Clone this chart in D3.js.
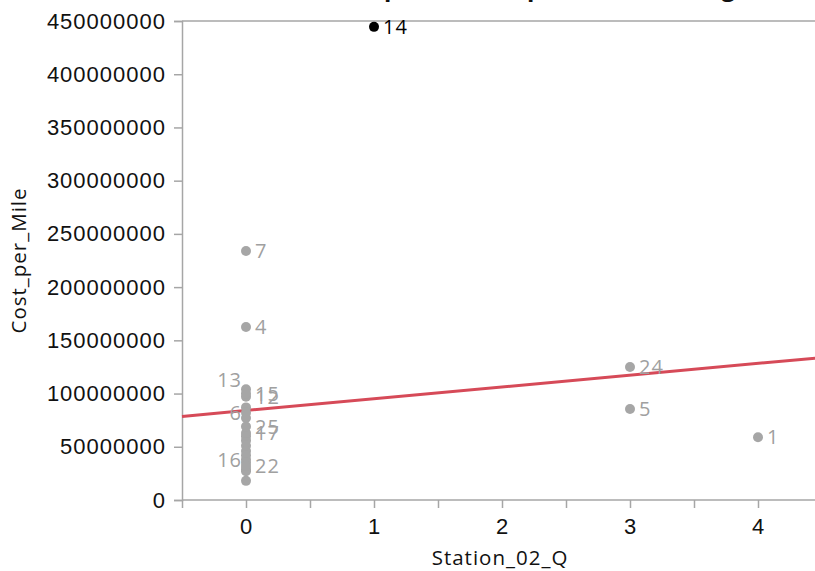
<!DOCTYPE html>
<html>
<head>
<meta charset="utf-8">
<script src="https://cdn.jsdelivr.net/npm/d3@7/dist/d3.min.js"></script>
<style>
  html, body { margin: 0; padding: 0; background: #fff; overflow: hidden; }
  svg { display: block; font-family: "Open Sans", "Noto Sans", sans-serif; }
  .axis path, .axis line { stroke: #a6a6a6; stroke-width: 1.5; }
  .axis text { fill: #111; font-size: 22px; letter-spacing: 1px; }
  .axis-title { font-size: 20.5px; letter-spacing: 1px; fill: #111; }
</style>
</head>
<body>
<svg id="chart" width="815" height="571"></svg>
<script>
// Project id, Station_02_Q and Cost_per_Mile for each observation
const ids = [1, 2, 3, 4, 5, 6, 7, 8, 9, 10, 11, 12, 13, 14, 15, 16, 17, 18, 19, 20, 21, 22, 23, 24, 25];
const station02Q = [4, 0, 0, 0, 3, 0, 0, 0, 0, 0, 0, 0, 0, 1, 0, 0, 0, 0, 0, 0, 0, 0, 0, 3, 0];
const costPerMile = [
  59e6, 87e6, 77e6, 162.6e6, 85.5e6, 82e6, 234e6, 60e6, 56e6, 51e6,
  46e6, 97e6, 104e6, 444.5e6, 100e6, 38e6, 63e6, 42e6, 29e6, 35e6,
  27e6, 32e6, 18e6, 125e6, 69e6
];
// Observations that carry a visible id label, and which side it sits on
const labelledIds = [1, 4, 5, 6, 7, 12, 13, 14, 15, 16, 17, 22, 24, 25];
const labelSide = { 6: "left", 13: "upperLeft", 16: "left" };
const highlightedId = 14;

const xTicks = [-0.5, 0, 0.5, 1, 1.5, 2, 2.5, 3, 3.5, 4, 4.5];
const yTicks = [0, 50e6, 100e6, 150e6, 200e6, 250e6, 300e6, 350e6, 400e6, 450e6];

const data = ids.map((id, i) => ({ id, x: station02Q[i], y: costPerMile[i] }));

const svg = d3.select("#chart");
const plotLeft = 182, plotTop = 21, plotBottom = 500, plotRight = 822;

const x = d3.scaleLinear().domain([-0.5, 4.5]).range([plotLeft, plotRight]);
const y = d3.scaleLinear().domain([0, 450e6]).range([plotBottom, plotTop]);

// Title (runs off the top edge of the page)
svg.append("text")
  .attr("x", 560).attr("y", -4)
  .attr("text-anchor", "middle")
  .attr("font-size", 24).attr("font-weight", "bold").attr("fill", "#111")
  .text("Scatterplot of Cost per Mile with Regression");

// Top frame line
svg.append("line")
  .attr("x1", plotLeft).attr("x2", 815).attr("y1", plotTop).attr("y2", plotTop)
  .attr("stroke", "#a6a6a6").attr("stroke-width", 1.5);

// Axes
const xAxis = d3.axisBottom(x)
  .tickValues(xTicks)
  .tickSize(8).tickPadding(10)
  .tickFormat(d => Number.isInteger(d) ? d3.format("d")(d) : "");
svg.append("g").attr("class", "axis")
  .attr("transform", `translate(0,${plotBottom})`)
  .call(xAxis)
  .call(g => g.select(".domain").attr("d", `M${plotLeft},0H815`));

const yAxis = d3.axisLeft(y)
  .tickValues(yTicks)
  .tickSize(8).tickPadding(8)
  .tickFormat(d3.format("d"));
svg.append("g").attr("class", "axis")
  .attr("transform", `translate(${plotLeft},0)`)
  .call(yAxis);

// Axis titles
svg.append("text").attr("class", "axis-title")
  .attr("x", (plotLeft + plotRight) / 2 - 2).attr("y", 565)
  .attr("text-anchor", "middle")
  .text("Station_02_Q");
svg.append("text").attr("class", "axis-title")
  .attr("transform", `translate(26,${(plotTop + plotBottom) / 2}) rotate(-90)`)
  .attr("text-anchor", "middle")
  .text("Cost_per_Mile");

// Least-squares regression line
const mx = d3.mean(data, d => d.x), my = d3.mean(data, d => d.y);
const sxy = d3.sum(data, d => (d.x - mx) * (d.y - my));
const sxx = d3.sum(data, d => (d.x - mx) ** 2);
const slope = sxy / sxx, intercept = my - slope * mx;
const [x0, x1] = x.domain();
svg.append("line")
  .attr("x1", x(x0)).attr("y1", y(intercept + slope * x0))
  .attr("x2", x(x1)).attr("y2", y(intercept + slope * x1))
  .attr("stroke", "#d64a58").attr("stroke-width", 3);

// Points
const grey = "#a6a6a6";
svg.append("g").selectAll("circle")
  .data(data.filter(d => d.id !== highlightedId).concat(data.filter(d => d.id === highlightedId)))
  .join("circle")
  .attr("cx", d => x(d.x)).attr("cy", d => y(d.y)).attr("r", 5)
  .attr("fill", d => d.id === highlightedId ? "#000" : grey);

// Id labels
svg.append("g").selectAll("text")
  .data(data.filter(d => labelledIds.includes(d.id)))
  .join("text")
  .attr("x", d => labelSide[d.id] ? x(d.x) - 4 : x(d.x) + 9)
  .attr("y", d => y(d.y) + (labelSide[d.id] === "upperLeft" ? -9 : 0))
  .attr("dy", "0.35em")
  .attr("text-anchor", d => labelSide[d.id] ? "end" : "start")
  .attr("font-size", 20)
  .style("letter-spacing", "1px")
  .attr("fill", d => d.id === highlightedId ? "#000" : "#a0a0a0")
  .text(d => d.id);
</script>
</body>
</html>
